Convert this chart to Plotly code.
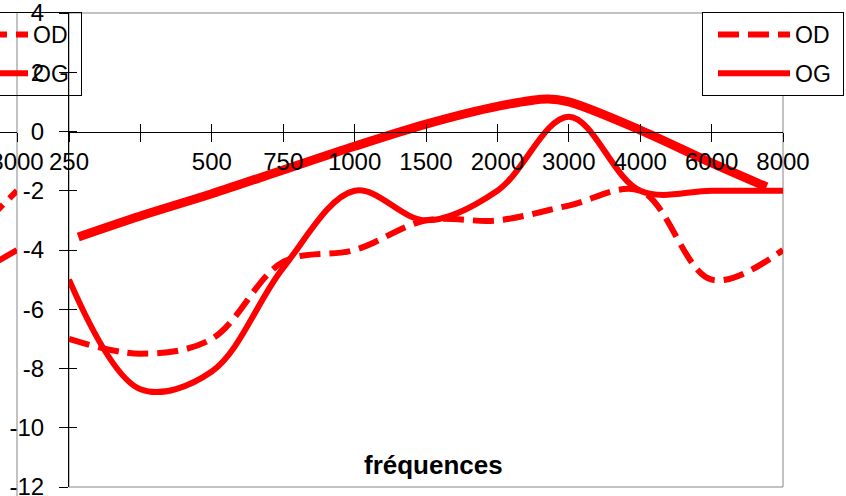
import plotly.graph_objects as go

# ---------------- data ----------------
freq_labels = ["250", "", "500", "750", "1000", "1500", "2000", "3000", "4000", "6000", "8000"]
cat_idx = list(range(len(freq_labels)))
od_values = [-7, -7.5, -7, -4.4, -4, -3, -3, -2.5, -2, -5, -4]
og_values = [-5, -8.7, -8.1, -4.6, -2, -3, -2, 0.5, -2, -2, -2]
trend_x = [0.13, 1, 2, 3, 4, 5, 6, 6.7, 7, 8, 9, 9.77]
trend_y = [-3.56, -2.85, -2.1, -1.3, -0.5, 0.25, 0.85, 1.1, 1.0, 0.05, -1.06, -1.87]
left_idx = [9, 10]
left_od = [-4.4, -2]
left_og = [-5.4, -4]
y_ticks = [4, 2, 0, -2, -4, -6, -8, -10, -12]
y_tick_labels = ["4", "2", "0", "-2", "-4", "-6", "-8", "-10", "-12"]
series_names = ["OD", "OG"]
y_min, y_max = -12, 4

# ---------------- geometry / style ----------------
W, H = 846, 496
FONT = "Liberation Sans, Arial, sans-serif"
RED = "#FF0000"
GRAY = "#868686"
DASH = "21px,9px"
PAD = "\u00a0"

xd = [69 / W, 783 / W]
yd = [(H - 487) / H, (H - 13) / H]
px_per_unit = (487 - 13) / (y_max - y_min)
zero_pos = yd[0] + (0 - y_min) / (y_max - y_min) * (yd[1] - yd[0])

cat_px = (783 - 69) / (len(freq_labels) - 1)
x3d = [0, 17 / W]
x3range = [cat_idx[-1] - 17 / cat_px, cat_idx[-1]]
y3d = [0, yd[1]]
y3min = y_max - (H - 13) / px_per_unit
zero_pos3 = y3d[0] + (0 - y3min) / (y_max - y3min) * (y3d[1] - y3d[0])

fig = go.Figure()

# main chart
fig.add_trace(go.Scatter(x=cat_idx, y=od_values, name=series_names[0] + PAD, mode="lines",
                         line=dict(color=RED, width=6, dash=DASH, shape="spline", smoothing=1),
                         legend="legend", legendgroup="od"))
fig.add_trace(go.Scatter(x=cat_idx, y=og_values, name=series_names[1] + PAD, mode="lines",
                         line=dict(color=RED, width=6, shape="spline", smoothing=1),
                         legend="legend", legendgroup="og"))
fig.add_trace(go.Scatter(x=trend_x, y=trend_y, mode="lines", showlegend=False,
                         line=dict(color=RED, width=9, shape="spline", smoothing=1)))
# overlay axes for crossing ticks
fig.add_trace(go.Scatter(x=[], y=[], xaxis="x2", yaxis="y2", showlegend=False))

# left (cropped) chart
fig.add_trace(go.Scatter(x=left_idx, y=left_od, name=series_names[0] + PAD, mode="lines",
                         xaxis="x3", yaxis="y3",
                         line=dict(color=RED, width=6, dash=DASH),
                         legend="legend2", legendgroup="lod"))
fig.add_trace(go.Scatter(x=left_idx, y=left_og, name=series_names[1] + PAD, mode="lines",
                         xaxis="x3", yaxis="y3",
                         line=dict(color=RED, width=6),
                         legend="legend2", legendgroup="log"))
fig.add_trace(go.Scatter(x=[], y=[], xaxis="x4", yaxis="y3", showlegend=False))

tickfont = dict(family=FONT, size=24, color="black")
legend_common = dict(y=1 - 12 / H, yanchor="top", bordercolor="black", borderwidth=1,
                     font=dict(family=FONT, size=23, color="black"),
                     itemwidth=72, tracegroupgap=6, traceorder="grouped",
                     indentation=10)

fig.update_layout(
    template="none",
    width=W, height=H,
    margin=dict(l=0, r=0, t=0, b=0, pad=0, autoexpand=False),
    paper_bgcolor="white", plot_bgcolor="white",
    font=dict(family=FONT, size=24, color="black"),
    showlegend=True,
    xaxis=dict(domain=xd, range=[cat_idx[0], cat_idx[-1]], anchor="free", position=zero_pos,
               tickmode="array", tickvals=cat_idx, ticktext=freq_labels,
               ticks="outside", ticklen=9, tickwidth=1, tickcolor="black",
               showline=True, linecolor="black", linewidth=1, ticklabeloverflow="allow",
               showgrid=False, zeroline=False, tickfont=tickfont, automargin=False),
    xaxis2=dict(domain=xd, range=[cat_idx[0], cat_idx[-1]], overlaying="x", anchor="free",
                position=zero_pos, tickmode="array", tickvals=cat_idx,
                ticks="inside", ticklen=8, tickwidth=1, tickcolor="black",
                showticklabels=False, showline=False, showgrid=False, zeroline=False,
                automargin=False),
    yaxis=dict(domain=yd, range=[y_min, y_max], anchor="x", tickmode="array", tickvals=y_ticks,
               ticktext=y_tick_labels,
               ticks="outside", ticklen=9, tickwidth=1, tickcolor="black",
               showline=True, linecolor="black", linewidth=1, ticklabeloverflow="allow",
               showgrid=False, zeroline=False, tickfont=tickfont, ticklabelstandoff=10,
               automargin=False),
    yaxis2=dict(domain=yd, range=[y_min, y_max], overlaying="y", anchor="x", tickmode="array",
                tickvals=y_ticks, ticks="inside", ticklen=8, tickwidth=1, tickcolor="black",
                showticklabels=False, showline=False, showgrid=False, zeroline=False,
                automargin=False),
    xaxis3=dict(domain=x3d, range=x3range, anchor="free", position=zero_pos3,
                tickmode="array", tickvals=cat_idx, ticktext=freq_labels,
                ticks="outside", ticklen=9, tickwidth=1, tickcolor="black",
                showline=True, linecolor="black", linewidth=1, ticklabeloverflow="allow",
                showgrid=False, zeroline=False, tickfont=tickfont, automargin=False),
    xaxis4=dict(domain=x3d, range=x3range, overlaying="x3", anchor="free", position=zero_pos3,
                tickmode="array", tickvals=cat_idx, ticks="inside", ticklen=8, tickwidth=1,
                tickcolor="black", showticklabels=False, showline=False, showgrid=False,
                zeroline=False, automargin=False),
    yaxis3=dict(domain=y3d, range=[y3min, y_max], anchor="x3", visible=False,
                showgrid=False, zeroline=False, automargin=False),
    legend=dict(x=844 / W, xanchor="right", bgcolor="white", **legend_common),
    legend2=dict(x=82 / W, xanchor="right", bgcolor="rgba(0,0,0,0)", **legend_common),
    shapes=[
        dict(type="rect", xref="x domain", yref="y domain", x0=0, x1=1, y0=0, y1=1,
             line=dict(color=GRAY, width=1), layer="below"),
        dict(type="line", xref="x3 domain", yref="y3 domain", x0=1, x1=1, y0=0, y1=1,
             line=dict(color=GRAY, width=1), layer="below"),
    ],
    annotations=[
        dict(text="fréquences", xref="paper", yref="paper", x=433 / W, y=(H - 465) / H,
             xanchor="center", yanchor="middle", showarrow=False,
             font=dict(family=FONT, size=26, color="black", weight="bold")),
    ],
)

fig.write_html("out.html")
